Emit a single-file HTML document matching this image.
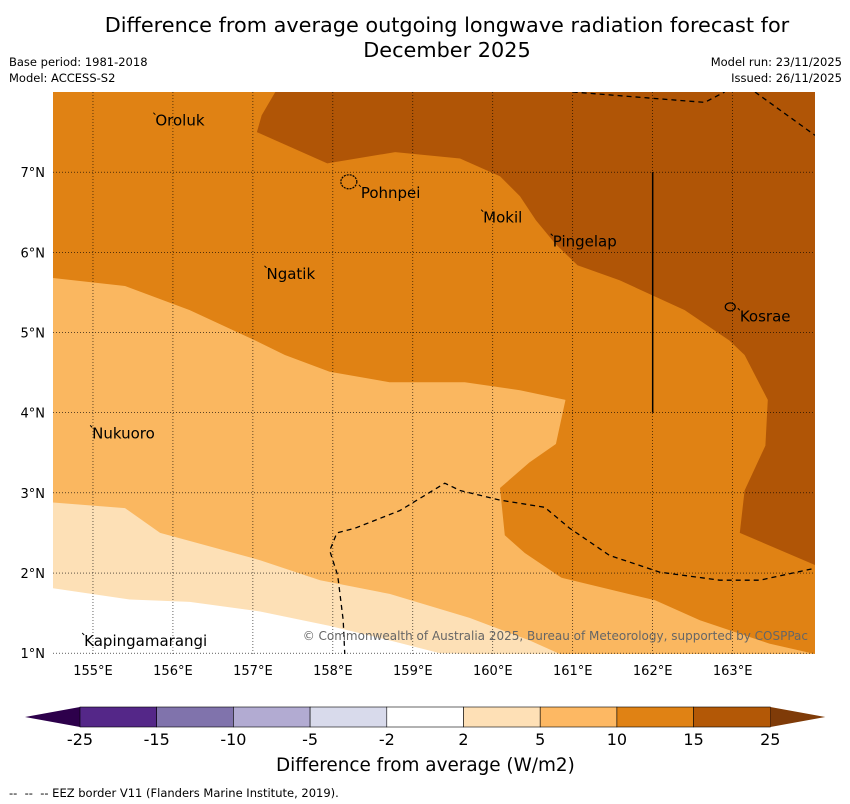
<!DOCTYPE html>
<html><head><meta charset="utf-8">
<style>
body{margin:0;background:#fff;font-family:"DejaVu Sans","Liberation Sans",sans-serif;}
#wrap{position:relative;width:850px;height:804px;overflow:hidden;background:#fff;}
.t{position:absolute;white-space:nowrap;color:#000;font-family:"DejaVu Sans","Liberation Sans",sans-serif;}
</style></head><body>
<div id="wrap">
<div class="t" style="left:0;width:894px;text-align:center;top:13px;font-size:20.8px;line-height:25px;">Difference from average outgoing longwave radiation forecast for<br>December 2025</div>
<div class="t" style="left:9px;top:55px;font-size:11.5px;">Base period: 1981-2018</div>
<div class="t" style="left:9px;top:71px;font-size:11.5px;">Model: ACCESS-S2</div>
<div class="t" style="right:8px;top:55px;font-size:11.5px;">Model run: 23/11/2025</div>
<div class="t" style="right:8px;top:71px;font-size:11.5px;">Issued: 26/11/2025</div>
<svg id="svg" width="850" height="804" style="position:absolute;left:0;top:0"></svg>
<div class="t" style="left:276px;top:755px;font-size:18.4px;">Difference from average (W/m2)</div>
<div class="t" style="left:9px;top:786px;font-size:11.5px;">--&nbsp; --&nbsp; -- EEZ border V11 (Flanders Marine Institute, 2019).</div>
</div>
<script>
const lonTicks=[155,156,157,158,159,160,161,162,163];
const latTicks=[1,2,3,4,5,6,7];
const cbLabels=["-25","-15","-10","-5","-2","2","5","10","15","25"];
const cbColors=["#542788","#8073ac","#b2abd2","#d8daeb","#ffffff","#fee0b6","#fdb863","#e08214","#b35806"];
const cbLow="#2d004b", cbHigh="#7f3b08";
const whiteEdge=[[154.5,1.81],[155.46,1.67],[156.21,1.64],[157.09,1.52],[157.96,1.34],[158.71,1.16],[159.34,1.0]];
const lightestEdge=[[154.5,2.88],[155.4,2.81],[155.84,2.5],[157.09,2.16],[157.84,1.91],[158.71,1.74],[159.71,1.44],[160.46,1.16],[160.84,0.99]];
const orangeEdge=[[154.5,5.68],[155.4,5.58],[156.21,5.28],[157.03,4.9],[157.4,4.72],[157.96,4.51],[158.71,4.38],[159.65,4.38],[160.34,4.28],[160.91,4.16],[160.79,3.61],[160.46,3.38],[160.09,3.06],[160.15,2.47],[160.4,2.25],[160.86,1.94],[162.03,1.66],[162.59,1.41],[163.46,1.12],[164.03,0.99]];
const darkEdge=[[157.28,8.0],[157.11,7.71],[157.05,7.5],[157.93,7.11],[158.78,7.25],[159.59,7.17],[160.09,6.95],[160.34,6.7],[160.54,6.4],[160.78,6.11],[161.06,5.84],[161.59,5.65],[162.4,5.28],[162.96,4.9],[163.15,4.72],[163.44,4.16],[163.41,3.59],[163.15,3.03],[163.09,2.5],[164.03,2.1]];
const eezMid=[[158.15,0.98],[158.13,1.41],[158.06,1.97],[157.96,2.28],[158.05,2.5],[158.28,2.56],[158.84,2.78],[159.4,3.12],[159.59,3.03],[160.09,2.91],[160.65,2.82],[160.96,2.56],[161.46,2.22],[162.09,2.01],[162.84,1.91],[163.34,1.91],[164.03,2.06]];
const eezTop1=[[161.0,8.0],[162.65,7.87],[162.9,8.0]];
const eezTop2=[[163.28,8.0],[164.03,7.46]];
const places=[["Oroluk",155.78,7.58],["Pohnpei",158.35,6.68],["Mokil",159.88,6.37],["Pingelap",160.75,6.07],["Ngatik",157.17,5.67],["Kosrae",163.09,5.14],["Nukuoro",154.99,3.68],["Kapingamarangi",154.89,1.09]];
const LON0=154.5,LON1=164.03,LAT0=0.99,LAT1=8.0,X0=53,X1=815,Y0=92,Y1=654;
function xs(lon){return X0+(lon-LON0)/(LON1-LON0)*(X1-X0);}
function ys(lat){return Y1-(lat-LAT0)/(LAT1-LAT0)*(Y1-Y0);}
const svg=document.getElementById('svg');const NS="http://www.w3.org/2000/svg";
function mk(tag,attrs){const e=document.createElementNS(NS,tag);for(const k in attrs)e.setAttribute(k,attrs[k]);svg.appendChild(e);return e;}
function pts(a){return a.map(p=>xs(p[0]).toFixed(1)+","+ys(p[1]).toFixed(1)).join(" ");}
const defs=mk('defs',{});const cp=document.createElementNS(NS,'clipPath');cp.setAttribute('id','mc');const cr=document.createElementNS(NS,'rect');
cr.setAttribute('x',X0);cr.setAttribute('y',Y0);cr.setAttribute('width',X1-X0);cr.setAttribute('height',Y1-Y0);cp.appendChild(cr);defs.appendChild(cp);
const g=document.createElementNS(NS,'g');g.setAttribute('clip-path','url(#mc)');svg.appendChild(g);
function poly(points,fill,name){const e=document.createElementNS(NS,'polygon');e.setAttribute('points',points);e.setAttribute('fill',fill);


g.appendChild(e);}
let bg=document.createElementNS(NS,'rect');bg.setAttribute('x',X0);bg.setAttribute('y',Y0);bg.setAttribute('width',X1-X0);bg.setAttribute('height',Y1-Y0);bg.setAttribute('fill','#fff');g.appendChild(bg);
poly(pts([[LON0,LAT1+0.1],[LON1,LAT1+0.1],[LON1,LAT0-0.1]].concat(whiteEdge.slice().reverse())),"#fde0b6","region-2-to-5");
poly(pts([[LON0,LAT1+0.1],[LON1,LAT1+0.1],[LON1,LAT0-0.1]].concat(lightestEdge.slice().reverse())),"#fab760","region-5-to-10");
poly(pts([[LON0,LAT1+0.1],[LON1,LAT1+0.1]].concat(orangeEdge.slice().reverse())),"#e08214","region-10-to-15");
poly(pts(darkEdge.concat([[LON1+0.1,LAT1+0.1]])),"#b05506","region-15-to-25");
lonTicks.forEach(l=>{const e=document.createElementNS(NS,'line');e.setAttribute('x1',xs(l));e.setAttribute('x2',xs(l));e.setAttribute('y1',Y0);e.setAttribute('y2',Y1);e.setAttribute('stroke','#000');e.setAttribute('stroke-width','0.6');e.setAttribute('stroke-dasharray','1,2');


g.appendChild(e);});
latTicks.forEach(l=>{const e=document.createElementNS(NS,'line');e.setAttribute('y1',ys(l));e.setAttribute('y2',ys(l));e.setAttribute('x1',X0);e.setAttribute('x2',X1);e.setAttribute('stroke','#000');e.setAttribute('stroke-width','0.6');e.setAttribute('stroke-dasharray','1,2');


g.appendChild(e);});
[eezMid,eezTop1,eezTop2].forEach(a=>{const e=document.createElementNS(NS,'polyline');e.setAttribute('points',pts(a));e.setAttribute('fill','none');e.setAttribute('stroke','#000');e.setAttribute('stroke-width','1.3');e.setAttribute('stroke-dasharray','5,4');


g.appendChild(e);});
const sl=document.createElementNS(NS,'line');sl.setAttribute('x1',xs(162));sl.setAttribute('x2',xs(162));sl.setAttribute('y1',ys(7));sl.setAttribute('y2',ys(4));sl.setAttribute('stroke','#000');sl.setAttribute('stroke-width','1.5');


g.appendChild(sl);
const pohn=mk('ellipse',{cx:xs(158.2),cy:ys(6.88),rx:8,ry:7,fill:'none',stroke:'#000','stroke-width':1.2,'stroke-dasharray':'2,1'});

const kos=mk('ellipse',{cx:xs(162.97),cy:ys(5.32),rx:5,ry:4,fill:'none',stroke:'#000','stroke-width':1.2});

places.forEach(p=>{const t=mk('text',{x:xs(p[1]),y:ys(p[2]),'font-size':15,'font-family':'DejaVu Sans, sans-serif',fill:'#000'});t.textContent=p[0];


const m=mk('line',{x1:xs(p[1])-2,y1:ys(p[2])-13,x2:xs(p[1]),y2:ys(p[2])-11,stroke:'#000','stroke-width':1});


});
const cpy=mk('text',{x:808,y:640,'text-anchor':'end','font-size':12,fill:'#666','font-family':'DejaVu Sans, sans-serif'});cpy.textContent="© Commonwealth of Australia 2025, Bureau of Meteorology, supported by COSPPac";

lonTicks.forEach(l=>{const t=mk('text',{x:xs(l),y:675,'text-anchor':'middle','font-size':13,'font-family':'DejaVu Sans, sans-serif'});t.textContent=l+"°E";

});
latTicks.forEach(l=>{const t=mk('text',{x:45,y:ys(l)+5,'text-anchor':'end','font-size':13,'font-family':'DejaVu Sans, sans-serif'});t.textContent=l+"°N";

});
const CB0=80,CBW=76.7,CY=707,CH=20;
const lo=mk('polygon',{points:`25,${CY+CH/2} ${CB0},${CY} ${CB0},${CY+CH}`,fill:cbLow});

cbColors.forEach((c,i)=>{const r=mk('rect',{x:CB0+i*CBW,y:CY,width:CBW,height:CH,fill:c,stroke:'#000','stroke-width':0.6});

});
const hx=CB0+cbColors.length*CBW;
const hi=mk('polygon',{points:`${hx},${CY} ${hx+55},${CY+CH/2} ${hx},${CY+CH}`,fill:cbHigh});

cbLabels.forEach((l,i)=>{const t=mk('text',{x:CB0+i*CBW,y:745,'text-anchor':'middle','font-size':16,'font-family':'DejaVu Sans, sans-serif'});t.textContent=l;

});
</script>
</body></html>
